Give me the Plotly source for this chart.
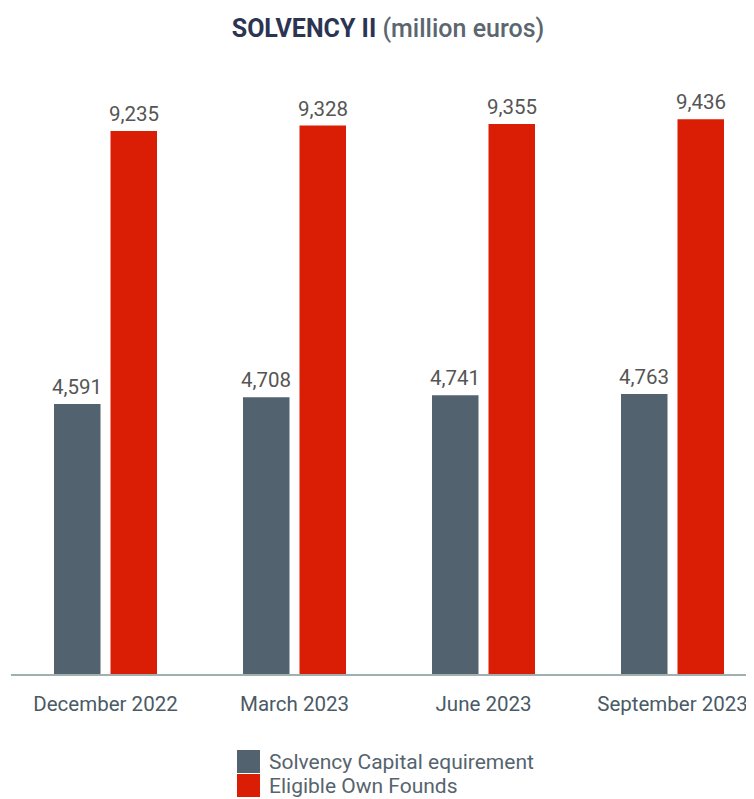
import plotly.graph_objects as go

categories = ["December 2022", "March 2023", "June 2023", "September 2023"]
scr = [4591, 4708, 4741, 4763]
eof = [9235, 9328, 9355, 9436]
series_names = ["Solvency Capital equirement", "Eligible Own Founds"]
colors = ["#52636f", "#d91e05"]

# page is offset by 8px body margin; positions below are figure pixels
W, H = 754, 799
ml, mr, mt, mb = 3, 0, 52, 133
unit_px = 189.0
plot_w = W - ml - mr
plot_h = H - mt - mb
xmax = -0.5 + plot_w / unit_px

bw = 46.5 / unit_px
off_a = -103 / 2 / unit_px
off_b = 5 / unit_px

def py(p):  # figure pixel y -> paper
    return (H - mb - p) / plot_h
def px(p):  # figure pixel x -> paper
    return (p - ml) / plot_w

fig = go.Figure()
xs = list(range(len(categories)))
for vals, name, col, off in [(scr, series_names[0], colors[0], off_a), (eof, series_names[1], colors[1], off_b)]:
    fig.add_trace(go.Bar(x=xs, y=vals, name=name, marker=dict(color=col, line=dict(width=0)),
                         width=bw, offset=off, showlegend=False, hoverinfo="x+y"))
    for i, v in enumerate(vals):
        fig.add_annotation(x=i + off + bw / 2, y=v, text=f"{v:,}", showarrow=False,
                           yanchor="bottom", yshift=3, xref="x", yref="y",
                           font=dict(family="Roboto", size=20.5, color="#555555"))

for k, (name, col) in enumerate(zip(series_names, colors)):
    y0p = 742 + k * 24
    fig.add_shape(type="rect", xref="paper", yref="paper",
                  x0=px(229), x1=px(252),
                  y0=py(y0p + 23), y1=py(y0p),
                  fillcolor=col, line=dict(width=0))
    fig.add_annotation(xref="paper", yref="paper", x=px(259), y=py(y0p + 12),
                       text=name, showarrow=False, xanchor="left", yanchor="middle",
                       font=dict(family="Roboto", size=21, color="#56646e"))

fig.update_layout(
    width=W, height=H,
    margin=dict(l=ml, r=mr, t=mt, b=mb),
    paper_bgcolor="white", plot_bgcolor="white",
    title=dict(text="<b>SOLVENCY II</b> <span style='color:#5a6670;font-weight:500'>(million euros)</span>",
               x=px(380), xref="paper", xanchor="center", y=1 - 20 / H, yanchor="middle",
               font=dict(family="Roboto", size=25, color="#2b3452")),
    xaxis=dict(tickmode="array", tickvals=xs, ticktext=categories, range=[-0.5, xmax],
               showline=True, linecolor="#9fb0ae", linewidth=2, showgrid=False, zeroline=False,
               ticks="", ticklabelstandoff=10,
               tickfont=dict(family="Roboto", size=20.5, color="#4a5a66")),
    yaxis=dict(range=[0, plot_h / 0.0588], visible=False, showgrid=False, zeroline=False),
    showlegend=False,
)

fig.write_html("out.html")
